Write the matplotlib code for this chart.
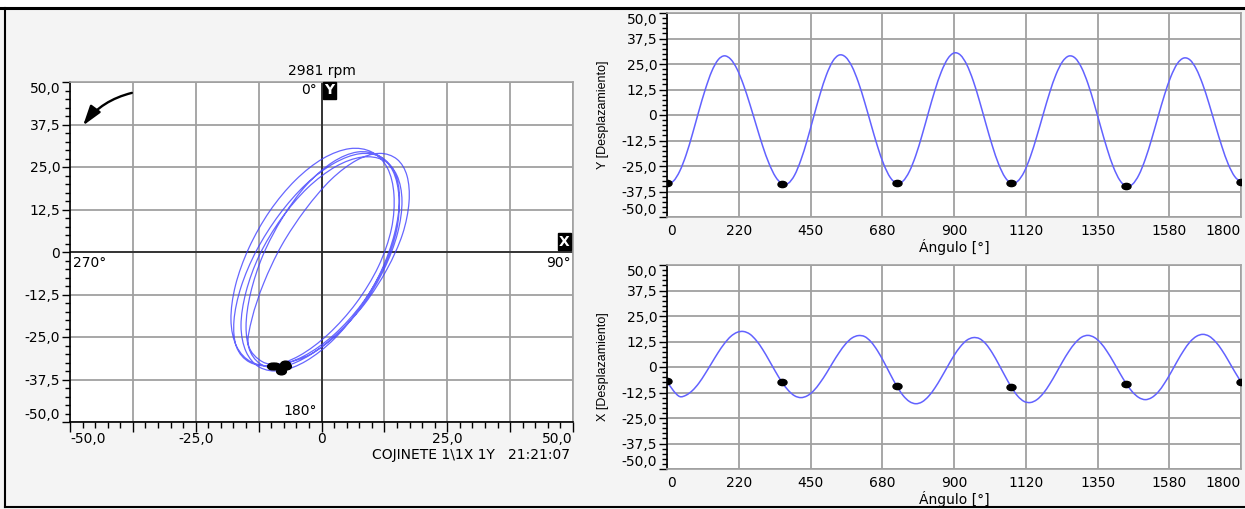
import numpy as np
import matplotlib.pyplot as plt
from matplotlib.path import Path
from matplotlib.patches import PathPatch, Rectangle
from matplotlib.lines import Line2D
from matplotlib.ticker import FixedLocator, MultipleLocator
from matplotlib.transforms import Affine2D

plt.rcParams['font.family'] = ['DejaVu Sans']
plt.rcParams['font.size'] = 10

# samples every 20 degrees
angle = list(range(0, 1801, 20))
y_disp = [
    -33.4, -32.4, -27.5, -19.5, -9.2, 2.0, 12.5, 21.3, 27.0,
    29.0, 27.3, 22.4, 14.7, 5.2, -5.1, -15.2, -23.8, -30.2,
    -33.6, -33.5, -29.5, -22.0, -12.1, -0.8, 10.2, 19.7, 26.4,
    29.4, 28.4, 23.8, 16.1, 6.2, -4.7, -15.3, -24.3, -30.6,
    -33.4, -32.4, -27.7, -19.9, -9.8, 1.3, 12.0, 21.1, 27.5,
    30.4, 29.4, 24.7, 16.9, 6.8, -4.3, -15.0, -24.1, -30.5,
    -33.4, -32.4, -27.9, -20.2, -10.3, 0.5, 11.0, 19.9, 26.1,
    28.9, 27.9, 23.2, 15.4, 5.3, -5.8, -16.5, -25.6, -32.0,
    -34.9, -33.9, -29.3, -21.6, -11.7, -0.8, 9.8, 18.8, 25.1,
    27.9, 27.0, 22.5, 15.0, 5.4, -5.2, -15.4, -24.1, -30.1,
    -32.9,
]
x_disp = [
    -7.0, -11.6, -14.5, -13.8, -11.5, -7.9, -3.2, 1.9, 7.0,
    11.5, 15.0, 17.0, 17.4, 16.1, 13.0, 8.6, 3.3, -2.2,
    -7.3, -11.4, -14.1, -15.0, -14.1, -11.6, -7.7, -3.0, 2.2,
    7.1, 11.3, 14.2, 15.4, 14.9, 12.3, 8.0, 2.5, -3.5,
    -9.2, -13.9, -16.9, -18.0, -17.1, -14.4, -10.3, -5.2, 0.3,
    5.6, 10.0, 13.1, 14.4, 13.9, 11.3, 6.9, 1.4, -4.4,
    -9.9, -14.3, -16.9, -17.4, -16.0, -12.9, -8.4, -3.1, 2.5,
    7.6, 11.8, 14.6, 15.5, 14.5, 11.8, 7.6, 2.5, -3.0,
    -8.1, -12.3, -15.0, -16.0, -15.0, -12.3, -8.0, -2.8, 2.8,
    8.0, 12.3, 15.0, 16.0, 15.1, 12.4, 8.3, 3.2, -2.2,
    -7.3,
]

angle_ticks = [0, 225, 450, 675, 900, 1125, 1350, 1575, 1800]
angle_labels = ['0', '220', '450', '680', '900', '1120', '1350', '1580', '1800']
disp_ticks = [-50, -37.5, -25, -12.5, 0, 12.5, 25, 37.5, 50]
disp_labels = ['-50,0', '-37,5', '-25,0', '-12,5', '0', '12,5', '25,0', '37,5', '50,0']
orbit_x_labels = ['-50,0', '', '-25,0', '', '0', '', '25,0', '', '50,0']

rpm_text = '2981 rpm'
info_text = 'COJINETE 1\\1X 1Y   21:21:07'

# keyphasor marks: once per revolution
key_idx = [i for i, a in enumerate(angle) if a % 360 == 0]

W, H = 1245, 509
BG = '#f4f4f4'
GRID = '#a0a0a0'
LABEL_FONT = dict(family=['Liberation Sans', 'DejaVu Sans'], size=9)
DOT = Path.unit_circle().transformed(Affine2D().scale(1.45, 1.0))


def rect(l, t, r, b):
    return [l / W, 1 - b / H, (r - l) / W, (b - t) / H]


def smooth_path(xs, ys):
    pts = np.column_stack([xs, ys])
    n = len(pts)
    verts = [pts[0]]
    codes = [Path.MOVETO]
    for i in range(n - 1):
        p0 = pts[max(i - 1, 0)]
        p1 = pts[i]
        p2 = pts[i + 1]
        p3 = pts[min(i + 2, n - 1)]
        verts += [p1 + (p2 - p0) / 6, p2 - (p3 - p1) / 6, p2]
        codes += [Path.CURVE4] * 3
    return Path(verts, codes)


def base_style(ax):
    ax.set_facecolor('white')
    for s in ['top', 'right', 'bottom']:
        ax.spines[s].set_color(GRID)
        ax.spines[s].set_linewidth(1.2)
    ax.spines['left'].set_color('black')
    ax.spines['left'].set_linewidth(1.2)
    ax.set_ylim(-50, 50)
    ax.yaxis.set_major_locator(FixedLocator(disp_ticks))
    ax.set_yticklabels(disp_labels)
    ax.yaxis.set_minor_locator(MultipleLocator(2.5))
    ax.tick_params(axis='y', which='major', direction='out', length=6, width=1, pad=1)
    ax.tick_params(axis='y', which='minor', direction='out', length=3.5, width=1)
    ax.grid(True, which='major', color=GRID, lw=1.3)
    ax.set_axisbelow(True)
    yl = ax.get_yticklabels()
    yl[0].set_va('bottom')
    yl[-1].set_va('top')


fig = plt.figure(figsize=(W / 100, H / 100), dpi=100, facecolor=BG)

# white strip at the top and the frame lines
fig.add_artist(Rectangle((0, 1 - 7 / H), 1, 7 / H, transform=fig.transFigure,
                         facecolor='white', edgecolor='none'))
fig.add_artist(Line2D([0, 1], [1 - 7.5 / H] * 2, transform=fig.transFigure, color='black', lw=2.2))
fig.add_artist(Line2D([5.5 / W] * 2, [1 - 507 / H, 1 - 7.5 / H], transform=fig.transFigure,
                      color='black', lw=1.5))
fig.add_artist(Line2D([5 / W, 1], [1 - 507 / H] * 2, transform=fig.transFigure, color='black', lw=1.5))

# ---------- orbit ----------
ax = fig.add_axes(rect(70, 82, 573, 422))
base_style(ax)
ax.spines['bottom'].set_color('black')
ax.set_xlim(-50, 50)
ax.xaxis.set_major_locator(FixedLocator(disp_ticks))
ax.set_xticklabels(orbit_x_labels)
ax.xaxis.set_minor_locator(MultipleLocator(2.5))
ax.tick_params(axis='x', which='major', direction='out', length=7, width=1, pad=0)
ax.tick_params(axis='x', which='minor', direction='out', length=4, width=1)
xl = ax.get_xticklabels()
xl[0].set_ha('left')
xl[-1].set_ha('right')
ax.axhline(0, color='#222222', lw=1.2, zorder=1)
ax.axvline(0, color='#222222', lw=1.2, zorder=1)

ax.add_patch(PathPatch(smooth_path(x_disp, y_disp), facecolor='none',
                       edgecolor='#4040ff', lw=0.9, alpha=0.8, zorder=3))
ax.plot([x_disp[i] for i in key_idx], [y_disp[i] for i in key_idx], ls='none',
        marker=DOT, color='black', ms=7, zorder=4)

box = dict(boxstyle='square,pad=0.1', fc='black', ec='black')
ax.text(0.6, 49.6, 'Y', color='white', fontweight='bold', ha='left', va='top', bbox=box)
ax.text(49.4, 1.0, 'X', color='white', fontweight='bold', ha='right', va='bottom', bbox=box)
ax.text(-1.0, 49.6, '0°', ha='right', va='top')
ax.text(-49.5, -1.2, '270°', ha='left', va='top')
ax.text(49.5, -1.2, '90°', ha='right', va='top')
ax.text(-1.0, -48.8, '180°', ha='right', va='bottom')
ax.text(0.5, 1.012, rpm_text, transform=ax.transAxes, ha='center', va='bottom')
ax.text(0.994, -0.097, info_text, transform=ax.transAxes, ha='right', va='center')
ax.annotate('', xy=(0.026, 0.872), xytext=(0.123, 0.968), xycoords='axes fraction',
            arrowprops=dict(arrowstyle='-|>,head_length=1.2,head_width=0.38',
                            mutation_scale=10, shrinkA=0, shrinkB=0,
                            connectionstyle='arc3,rad=0.18',
                            color='black', lw=1.7))

# ---------- waveforms ----------
panels = [
    (rect(667, 13, 1241, 217), y_disp, 'Y [Desplazamiento]'),
    (rect(667, 265, 1241, 469), x_disp, 'X [Desplazamiento]'),
]
for r, vals, lab in panels:
    a = fig.add_axes(r)
    base_style(a)
    a.set_xlim(0, 1800)
    a.xaxis.set_major_locator(FixedLocator(angle_ticks))
    a.set_xticklabels(angle_labels)
    a.tick_params(axis='x', which='major', length=0, pad=5)
    tl = a.get_xticklabels()
    tl[0].set_ha('left')
    tl[-1].set_ha('right')
    a.add_patch(PathPatch(smooth_path(angle, vals), facecolor='none',
                          edgecolor='#6262ff', lw=1.1, zorder=3))
    a.plot([angle[i] for i in key_idx], [vals[i] for i in key_idx], ls='none',
           marker=DOT, color='black', ms=6.5, zorder=4)
    a.set_xlabel('Ángulo [°]', labelpad=1)
    a.set_ylabel(lab, fontdict=LABEL_FONT)
    a.yaxis.set_label_coords(-0.101, 0.5)

fig.savefig('out.png', dpi=100, facecolor=BG)
